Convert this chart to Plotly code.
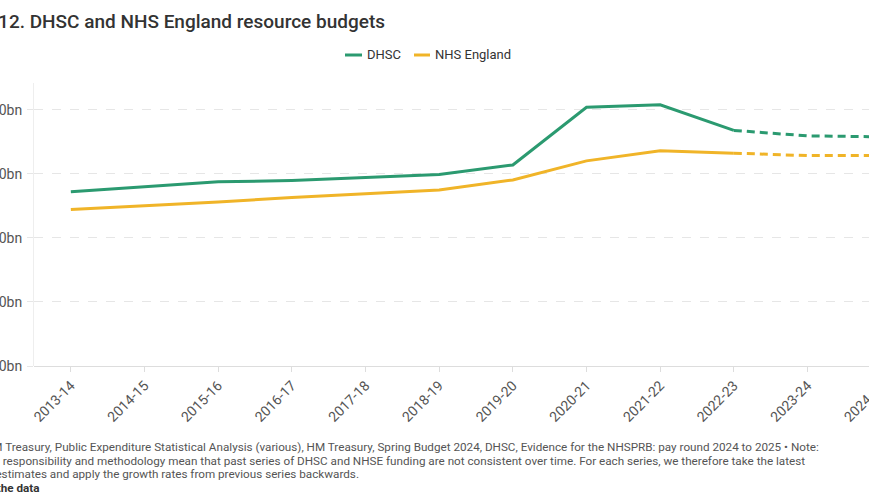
import plotly.graph_objects as go

years = ["2013-14", "2014-15", "2015-16", "2016-17", "2017-18", "2018-19",
         "2019-20", "2020-21", "2021-22", "2022-23", "2023-24", "2024-25"]
dhsc = [136.0, 139.8, 143.8, 144.9, 147.3, 149.6, 157.0, 202.0, 204.0, 184.0, 179.7, 179.0]
nhse = [122.2, 125.0, 128.1, 131.6, 134.8, 137.5, 145.3, 160.2, 168.0, 166.2, 164.3, 164.5]
n_actual = 10  # 2013-14 .. 2022-23 solid, then dashed plans
y_ticks = [0, 50, 100, 150, 200]
y_tick_labels = ["£0bn", "£50bn", "£100bn", "£150bn", "£200bn"]

GREEN = "#2b9a70"
YELLOW = "#f0b428"
TXT = "#333333"
GREY = "#555555"

W, H = 930, 504
ML, MR, MT, MB = 34, 12, 83, 138
PW = W - ML - MR
PH = H - MT - MB


def xp(px):
    return (px - ML) / PW


def yp(py):
    return (H - MB - py) / PH


fig = go.Figure()
for vals, col, name in [(dhsc, GREEN, "DHSC"), (nhse, YELLOW, "NHS England")]:
    fig.add_trace(go.Scatter(x=years[:n_actual], y=vals[:n_actual], mode="lines",
                             line=dict(color=col, width=3), name=name, showlegend=False,
                             hoverinfo="skip"))
    fig.add_trace(go.Scatter(x=years[n_actual - 1:], y=vals[n_actual - 1:], mode="lines",
                             line=dict(color=col, width=3, dash="8px,5px"), name=name,
                             showlegend=False, hoverinfo="skip"))

shapes = []
annotations = []
# manual legend
for x0, x1, tx, label, col in [(345, 362, 365, "DHSC", GREEN), (414, 430, 433, "NHS England", YELLOW)]:
    shapes.append(dict(type="line", xref="paper", yref="paper", x0=xp(x0), x1=xp(x1),
                       y0=yp(55), y1=yp(55), line=dict(color=col, width=3)))
    annotations.append(dict(text=label, xref="paper", yref="paper", x=xp(tx), y=yp(55),
                            xanchor="left", yanchor="middle", showarrow=False,
                            font=dict(size=13, color=TXT, family="Roboto")))

# title
annotations.append(dict(text="Figure 12. DHSC and NHS England resource budgets",
                        xref="paper", yref="paper", x=xp(-62), y=yp(21),
                        xanchor="left", yanchor="middle", showarrow=False,
                        font=dict(size=19, color=TXT, family="Roboto", weight=500)))

foot_lines = [
    "Source: HM Treasury, Public Expenditure Statistical Analysis (various), HM Treasury, Spring Budget 2024, DHSC, Evidence for the NHSPRB: pay round 2024 to 2025 • Note:",
    "Changes in responsibility and methodology mean that past series of DHSC and NHSE funding are not consistent over time. For each series, we therefore take the latest",
    "published estimates and apply the growth rates from previous series backwards.",
    "<b>Download the data</b>",
]
for i, line in enumerate(foot_lines):
    annotations.append(dict(text=line, xref="paper", yref="paper", x=xp(-60),
                            y=yp(447 + 13.5 * i), xanchor="left", yanchor="middle",
                            showarrow=False,
                            font=dict(size=11.7, color=GREY if i < 3 else TXT, family="Roboto")))

fig.update_layout(
    width=W, height=H,
    margin=dict(l=ML, r=MR, t=MT, b=MB, autoexpand=False),
    plot_bgcolor="white", paper_bgcolor="white",
    font=dict(family="Roboto", color=GREY, size=13),
    showlegend=False,
    shapes=shapes, annotations=annotations,
    xaxis=dict(type="category", range=[-0.5, len(years) - 0.5], tickangle=-45,
               showgrid=False, ticks="outside", ticklen=5, tickcolor="#dddddd",
               showline=False, tickfont=dict(size=14, color=GREY), automargin=False),
    yaxis=dict(range=[0, 221], tickvals=y_ticks, ticktext=y_tick_labels,
               showgrid=True, gridcolor="#e6e6e6", griddash="dash", gridwidth=1,
               zeroline=True, zerolinecolor="#dddddd", zerolinewidth=1,
               showline=True, linecolor="#eeeeee", linewidth=1,
               ticks="outside", ticklen=6, tickcolor="#e6e6e6", ticklabelstandoff=2,
               tickfont=dict(size=14, color=GREY), automargin=False),
)

fig.write_html("out.html", post_script="document.body.style.overflow='hidden';document.body.style.margin='0';")
